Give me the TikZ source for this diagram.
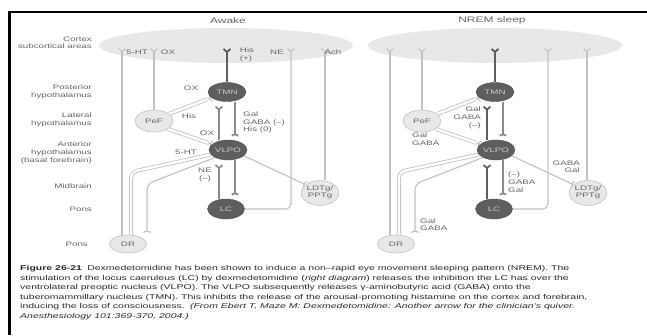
\documentclass[tikz,border=0pt]{standalone}
\usepackage{fontspec}
\setmainfont{Liberation Sans}
\usepackage{graphicx}
\usetikzlibrary{shapes.geometric,arrows.meta,calc}
\pgfdeclarelayer{bg}
\pgfdeclarelayer{paper}
\pgfsetlayers{paper,bg,main}
\definecolor{lite}{HTML}{C2C2C2}
\definecolor{midg}{HTML}{8A8A8A}
\definecolor{dark}{HTML}{5E5E5E}
\definecolor{ctx}{HTML}{E8E8E8}
\definecolor{txt}{HTML}{666666}
\definecolor{captxt}{HTML}{2A2A2A}
\newcommand{\sx}[1]{\scalebox{1.5}[1]{#1}}
\newcommand{\tb}[2]{\scalebox{1.5}[1]{\begin{tabular}{@{}#1@{}}#2\end{tabular}}}
\tikzset{
  lbl/.style={font=\fontsize{6.5}{7.6}\selectfont, text=txt, inner sep=0pt},
  ttl/.style={font=\fontsize{8}{9}\selectfont, text=txt, inner sep=0pt},
  captext/.style={font=\fontsize{7}{9}\selectfont, text=captxt, inner sep=0pt, anchor=base west},
  darkell/.style={ellipse, fill=dark, draw=dark!85!black, line width=0.4pt, inner sep=0pt, text=white!80!black, font=\fontsize{6.5}{7}\selectfont},
  liteell/.style={ellipse, fill=ctx, draw=lite, line width=0.6pt, inner sep=0pt, text=txt, font=\fontsize{6.5}{7}\selectfont},
  litelink/.style={draw=lite, line width=1.1pt},
  midlink/.style={draw=midg, line width=1.7pt},
  darklink/.style={draw=dark, line width=1.9pt},
  tube/.style={draw=lite, double=white, double distance=2.4pt, line width=0.8pt},
  forkend/.style={-{Straight Barb[reversed,length=3pt,width=7pt]}},
  cupend/.style={-{Arc Barb[reversed,length=2pt,width=8pt]}},
}
% #1 prefix, #2 x offset, #3 NE x, #4 Ach x, #5 colour of the left inner lines
\newcommand{\brain}[5]{%
 \node[darkell, minimum width=38pt, minimum height=19pt] (#1tmn) at ({#2+227},92) {\sx{TMN}};
 \node[liteell, minimum width=38pt, minimum height=22pt] (#1pef) at ({#2+154},121) {\sx{PeF}};
 \node[darkell, minimum width=38pt, minimum height=20pt] (#1vlpo) at ({#2+228},150) {\sx{VLPO}};
 \node[darkell, minimum width=37pt, minimum height=20pt] (#1lc) at ({#2+226},209) {\sx{LC}};
 \node[liteell, minimum width=36pt, minimum height=25pt] (#1ldt) at ({#2+320},193) {\tb{c}{LDTg/\\PPTg}};
 \node[liteell, minimum width=37pt, minimum height=18pt] (#1dr) at ({#2+128},244) {\sx{DR}};
 \coordinate (#1c5) at ({#2+122},48);
 \coordinate (#1cox) at ({#2+154},48);
 \coordinate (#1cne) at ({#2+#3},48);
 \coordinate (#1cach) at ({#2+#4},48);
 \coordinate (#1xa) at ({#2+219},0);
 \coordinate (#1xb) at ({#2+235},0);
 \coordinate (#1k1) at ({#2+131},172);
 \coordinate (#1k2) at ({#2+147},184);
 \coordinate (#1m1) at ($(#1tmn.200)!4pt!(#1pef.25)$);
 \coordinate (#1m2) at ($(#1vlpo.160)!4pt!(#1pef.-30)$);
 \begin{pgfonlayer}{bg}
  \draw[litelink,forkend] (#1dr.north -| #1c5) -- (#1c5);
  \draw[litelink,forkend] (#1pef.north) -- (#1pef.north |- #1cox);
  \draw[darklink,forkend] (#1tmn.north) -- (#1tmn.north |- #1c5);
  \draw[litelink,forkend,rounded corners=5pt] (#1lc.east) -- (#1lc.east -| #1cne) -- (#1cne);
  \draw[litelink,forkend] (#1ldt.north -| #1cach) -- (#1cach);
  \draw[tube] (#1pef.25) -- (#1m1);
  \draw[litelink,cupend] (#1m1) -- (#1tmn.200);
  \draw[tube] (#1pef.-30) -- (#1m2);
  \draw[litelink,cupend] (#1m2) -- (#1vlpo.160);
  \draw[midlink,draw=#5,forkend] (#1vlpo.north -| #1xa) -- ($(#1tmn.south -| #1xa)+(0,4)$);
  \draw[midlink,cupend] (#1tmn.south -| #1xb) -- ($(#1vlpo.north -| #1xb)+(0,-4)$);
  \draw[midlink,draw=#5,forkend] (#1lc.north -| #1xa) -- ($(#1vlpo.south -| #1xa)+(0,4)$);
  \draw[midlink,cupend] (#1vlpo.south -| #1xb) -- ($(#1lc.north -| #1xb)+(0,-4)$);
  \draw[litelink,cupend] (#1vlpo.-20) -- (#1ldt.150);
  \draw[tube,rounded corners=6pt] (#1dr.north -| #1k1) -- (#1k1) -- (#1vlpo.195);
  \draw[litelink,cupend,rounded corners=6pt] (#1vlpo.210) -- (#1k2) -- ($(#1dr.north -| #1k2)+(0,-2)$);
 \end{pgfonlayer}
}
\begin{document}
\begin{tikzpicture}[x=1pt,y=-1pt]
\path[use as bounding box] (0,0) rectangle (647,335);
\begin{pgfonlayer}{paper}
 \fill[white] (0,0) rectangle (647,335);
 \fill[ctx] (226,45.5) ellipse (127 and 17.5);
 \fill[ctx] (495,45.5) ellipse (127 and 17.5);
\end{pgfonlayer}
\draw[line width=2.2pt] (9.5,335) -- (9.5,12) -- (647,12);
\node[ttl] (tawake) at (228,21) {\sx{Awake}};
\node[ttl] (tnrem) at (492,20) {\sx{NREM sleep}};
% row labels
\node[lbl, anchor=east] (r1) at (92,43.5) {\tb{r}{Cortex\\subcortical areas}};
\node[lbl, anchor=east] (r2) at (92,92) {\tb{r}{Posterior\\hypothalamus}};
\node[lbl, anchor=east] (r3) at (92,120) {\tb{r}{Lateral\\hypothalamus}};
\node[lbl, anchor=east] (r4) at (92,153) {\tb{r}{Anterior\\hypothalamus\\(basal forebrain)}};
\node[lbl, anchor=east] (r5) at (92,186) {\sx{Midbrain}};
\node[lbl, anchor=east] (r6) at (92,209) {\sx{Pons}};
\node[lbl, anchor=east] (r7) at (88,244) {\sx{Pons}};
% diagrams
\brain{L}{0}{291}{325}{midg}
\brain{R}{268}{280}{319}{dark}
% left labels
\node[lbl] (l1) at (137,52) {\sx{5-HT}};
\node[lbl] (l2) at (168,52) {\sx{OX}};
\node[lbl] (l3) at (247,55) {\tb{l}{His\\(+)}};
\node[lbl] (l4) at (277,52) {\sx{NE}};
\node[lbl] (l5) at (333,52) {\sx{Ach}};
\node[lbl] (l6) at (191,88) {\sx{OX}};
\node[lbl] (l7) at (189,116) {\sx{His}};
\node[lbl, anchor=west] (l8) at (243,122.5) {\tb{l}{Gal\\GABA (–)\\His (0)}};
\node[lbl] (l9) at (207,133) {\sx{OX}};
\node[lbl] (l10) at (186,152) {\sx{5-HT}};
\node[lbl] (l11) at (205,175) {\tb{c}{NE\\(–)}};
% right labels
\node[lbl, anchor=east] (q1) at (481,118) {\tb{r}{Gal\\GABA\\(–)}};
\node[lbl, anchor=west] (q2) at (412,140) {\tb{l}{Gal\\GABA}};
\node[lbl, anchor=east] (q3) at (580,167.5) {\tb{r}{GABA\\Gal}};
\node[lbl, anchor=west] (q4) at (508,183) {\tb{l}{(–)\\GABA\\Gal}};
\node[lbl, anchor=west] (q5) at (420,225.5) {\tb{l}{Gal\\GABA}};
% caption
\node[captext] (cap1) at (20,270.5) {\sx{\textbf{Figure 26-21}\enspace Dexmedetomidine has been shown to induce a non–rapid eye movement sleeping pattern (NREM). The}};
\node[captext] (cap2) at (20,280) {\sx{stimulation of the locus caeruleus (LC) by dexmedetomidine (\textit{right diagram}) releases the inhibition the LC has over the}};
\node[captext] (cap3) at (20,289.5) {\sx{ventrolateral preoptic nucleus (VLPO). The VLPO subsequently releases γ-aminobutyric acid (GABA) onto the}};
\node[captext] (cap4) at (20,299) {\sx{tuberomammillary nucleus (TMN). This inhibits the release of the arousal-promoting histamine on the cortex and forebrain,}};
\node[captext] (cap5) at (20,308.5) {\sx{inducing the loss of consciousness.\enspace\textit{(From Ebert T, Maze M: Dexmedetomidine: Another arrow for the clinician's quiver.}}};
\node[captext] (cap6) at (20,318) {\sx{\textit{Anesthesiology 101:369-370, 2004.)}}};
\end{tikzpicture}
\end{document}
